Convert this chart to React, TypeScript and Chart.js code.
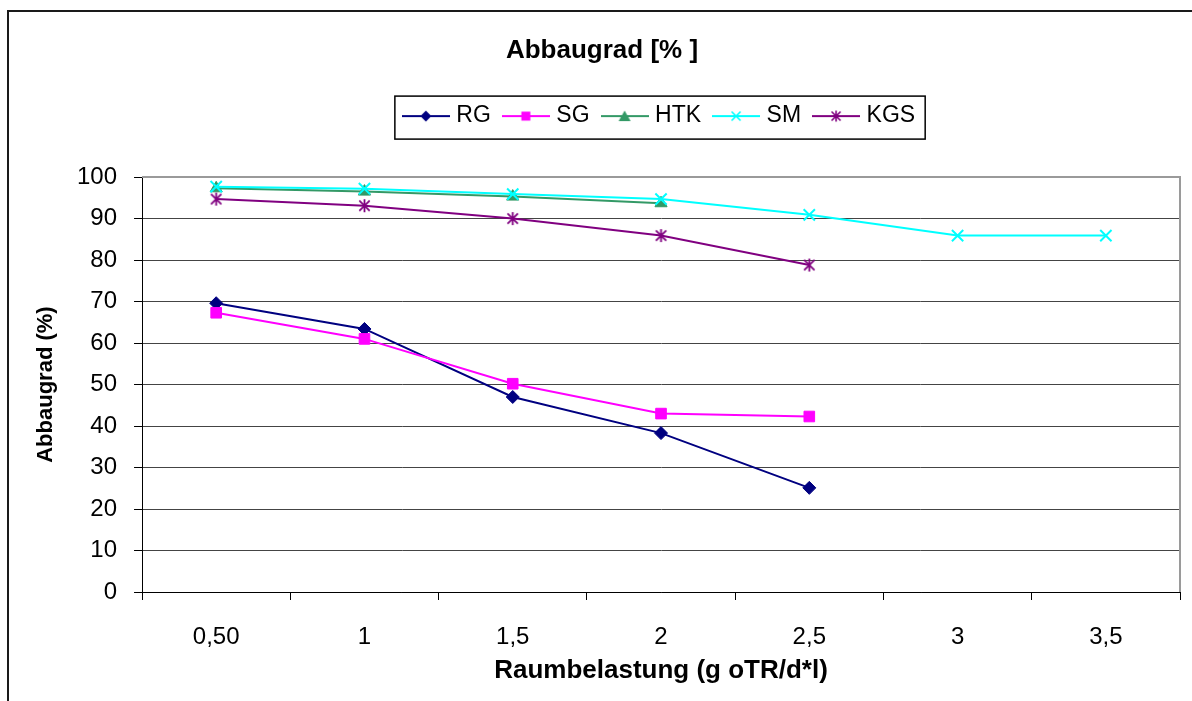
import React, { useEffect, useRef } from 'react';
import { Chart, registerables } from 'chart.js';

Chart.register(...registerables);

const FONT = "'Liberation Sans', Arial, sans-serif";

const categories = ['0,50', '1', '1,5', '2', '2,5', '3', '3,5'];
const seriesNames = ['RG', 'SG', 'HTK', 'SM', 'KGS'];
const rgValues = [69.6, 63.4, 47.0, 38.3, 25.1, null, null];
const sgValues = [67.3, 61.0, 50.2, 43.0, 42.3, null, null];
const htkValues = [97.3, 96.5, 95.3, 93.7, null, null, null];
const smValues = [97.7, 97.2, 95.9, 94.7, 90.9, 85.9, 85.9];
const kgsValues = [94.7, 93.1, 90.0, 85.9, 78.8, null, null];
const yMin = 0;
const yMax = 100;
const yStep = 10;

const colors = ['#000080', '#FF00FF', '#339966', '#00FFFF', '#800080'];
const markers = ['diamond', 'square', 'triangle', 'x', 'star'];

function drawMarker(ctx: CanvasRenderingContext2D, kind: string, x: number, y: number, color: string) {
  ctx.save();
  ctx.fillStyle = color;
  ctx.strokeStyle = color;
  ctx.lineWidth = 1.6;
  ctx.beginPath();
  if (kind === 'diamond') {
    ctx.moveTo(x, y - 5.5);
    ctx.lineTo(x + 5.5, y);
    ctx.lineTo(x, y + 5.5);
    ctx.lineTo(x - 5.5, y);
    ctx.closePath();
    ctx.fill();
  } else if (kind === 'square') {
    ctx.rect(x - 4.5, y - 4.5, 9, 9);
    ctx.fill();
  } else if (kind === 'triangle') {
    ctx.moveTo(x, y - 5.5);
    ctx.lineTo(x + 6, y + 5);
    ctx.lineTo(x - 6, y + 5);
    ctx.closePath();
    ctx.fill();
  } else if (kind === 'x') {
    ctx.moveTo(x - 4.5, y - 4.5);
    ctx.lineTo(x + 4.5, y + 4.5);
    ctx.moveTo(x + 4.5, y - 4.5);
    ctx.lineTo(x - 4.5, y + 4.5);
    ctx.stroke();
  } else if (kind === 'star') {
    ctx.moveTo(x - 4.5, y - 4.5);
    ctx.lineTo(x + 4.5, y + 4.5);
    ctx.moveTo(x + 4.5, y - 4.5);
    ctx.lineTo(x - 4.5, y + 4.5);
    ctx.moveTo(x, y - 5.5);
    ctx.lineTo(x, y + 5.5);
    ctx.stroke();
  }
  ctx.restore();
}

function makeSwatch(color: string, kind: string): HTMLCanvasElement {
  const c = document.createElement('canvas');
  c.width = 48;
  c.height = 16;
  const ctx = c.getContext('2d')!;
  ctx.strokeStyle = color;
  ctx.lineWidth = 2;
  ctx.beginPath();
  ctx.moveTo(0, 8);
  ctx.lineTo(48, 8);
  ctx.stroke();
  drawMarker(ctx, kind, 24, 8, color);
  return c;
}

function makeStar(color: string, size: number): HTMLCanvasElement {
  const c = document.createElement('canvas');
  c.width = size;
  c.height = size;
  const ctx = c.getContext('2d')!;
  ctx.strokeStyle = color;
  ctx.lineWidth = 1.8;
  const m = size / 2;
  const d = m - 1;
  ctx.beginPath();
  ctx.moveTo(m - d * 0.8, m - d * 0.8);
  ctx.lineTo(m + d * 0.8, m + d * 0.8);
  ctx.moveTo(m + d * 0.8, m - d * 0.8);
  ctx.lineTo(m - d * 0.8, m + d * 0.8);
  ctx.moveTo(m, m - d);
  ctx.lineTo(m, m + d);
  ctx.stroke();
  return c;
}

const decorPlugin = {
  id: 'decor',
  beforeDatasetsDraw(chart: any) {
    const { ctx, chartArea } = chart;
    ctx.save();
    ctx.strokeStyle = '#9a9a9a';
    ctx.lineWidth = 2;
    ctx.beginPath();
    ctx.moveTo(chartArea.left, chartArea.top);
    ctx.lineTo(chartArea.right, chartArea.top);
    ctx.lineTo(chartArea.right, chartArea.bottom);
    ctx.stroke();
    ctx.restore();
  },
  afterDraw(chart: any) {
    const { ctx } = chart;
    ctx.save();
    ctx.fillStyle = '#1a1a1a';
    ctx.fillRect(7, 10, 2, chart.height - 10);
    ctx.fillRect(7, 10, chart.width - 7, 2);
    const hb = chart.legend && chart.legend.legendHitBoxes;
    if (hb && hb.length) {
      const first = hb[0];
      const last = hb[hb.length - 1];
      const x0 = first.left - 12;
      const x1 = last.left + last.width + 10;
      const yc = first.top + 13;
      ctx.strokeStyle = '#000';
      ctx.lineWidth = 1.5;
      ctx.strokeRect(x0, yc - 21.5, x1 - x0, 43);
    }
    ctx.restore();
  },
};

export default function App() {
  const canvasRef = useRef<HTMLCanvasElement | null>(null);

  useEffect(() => {
    if (!canvasRef.current) return;
    Chart.defaults.font.family = FONT;
    const swatches = seriesNames.map((_, i) => makeSwatch(colors[i], markers[i]));
    const starImg = makeStar(colors[4], 15);
    const valueSets = [rgValues, sgValues, htkValues, smValues, kgsValues];
    const pointStyles: any[] = ['rectRot', 'rect', 'triangle', 'crossRot', starImg];
    const radii = [6.5, 7.5, 7, 8, 7];
    const orders = [5, 4, 3, 2, 1];

    const chart = new Chart(canvasRef.current, {
      type: 'line',
      data: {
        labels: categories,
        datasets: seriesNames.map((name, i) => ({
          label: name,
          data: valueSets[i],
          borderColor: colors[i],
          backgroundColor: colors[i],
          pointBackgroundColor: colors[i],
          pointBorderColor: colors[i],
          pointStyle: pointStyles[i],
          pointRadius: radii[i],
          pointBorderWidth: i === 3 ? 2 : 1,
          borderWidth: 2,
          tension: 0,
          fill: false,
          spanGaps: false,
          order: orders[i],
        })),
      },
      options: {
        responsive: false,
        maintainAspectRatio: false,
        animation: false,
        devicePixelRatio: 1,
        events: [],
        layout: { padding: { left: 24, right: 12, top: 0, bottom: 0 } },
        plugins: {
          tooltip: { enabled: false },
          title: {
            display: true,
            text: 'Abbaugrad [% ]',
            color: '#000',
            font: { family: FONT, size: 26, weight: 'bold' },
            padding: { top: 35, bottom: 22.4 },
          },
          subtitle: {
            display: true,
            text: '',
            weight: 100,
            font: { family: FONT, size: 10, lineHeight: 1 },
            padding: { top: 29.5, bottom: 0 },
          },
          legend: {
            display: true,
            position: 'top',
            fullSize: false,
            labels: {
              usePointStyle: true,
              pointStyleWidth: 38,
              padding: 16,
              color: '#000',
              font: { family: FONT, size: 23 },
              sort: (a: any, b: any) => a.datasetIndex - b.datasetIndex,
              generateLabels: (ch: any) => {
                const items = Chart.defaults.plugins.legend.labels.generateLabels(ch);
                return items.map((it: any) => ({ ...it, pointStyle: swatches[it.datasetIndex] }));
              },
            },
          },
        },
        scales: {
          x: {
            type: 'category',
            offset: true,
            ticks: { color: '#000', font: { family: FONT, size: 24 }, padding: 23, maxRotation: 0 },
            grid: { drawOnChartArea: false, drawTicks: true, tickLength: 8, tickColor: '#000', offset: true },
            border: { color: '#000', width: 1 },
            title: {
              display: true,
              text: 'Raumbelastung (g oTR/d*l)',
              color: '#000',
              font: { family: FONT, size: 26, weight: 'bold' },
              padding: { top: -19.4, bottom: 14.4 },
            },
          },
          y: {
            min: yMin,
            max: yMax,
            ticks: { stepSize: yStep, color: '#000', font: { family: FONT, size: 24 }, padding: 17 },
            grid: { color: '#444', lineWidth: 1, drawTicks: true, tickLength: 8, tickColor: '#000' },
            border: { color: '#000', width: 1 },
            title: {
              display: true,
              text: 'Abbaugrad (%)',
              color: '#000',
              font: { family: FONT, size: 22, weight: 'bold' },
              padding: { top: 8.8, bottom: 0.8 },
            },
          },
        },
      } as any,
      plugins: [decorPlugin],
    });
    return () => chart.destroy();
  }, []);

  return (
    <div style={{ position: 'fixed', left: 0, top: 0, width: 1192, height: 701, background: '#fff' }}>
      <canvas ref={canvasRef} width={1192} height={701} style={{ display: 'block', width: 1192, height: 701 }} />
    </div>
  );
}
